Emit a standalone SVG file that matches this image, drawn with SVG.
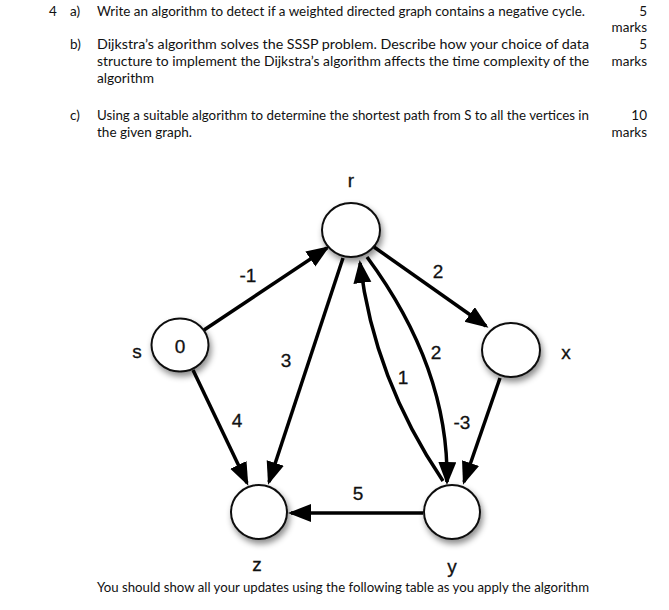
<svg xmlns="http://www.w3.org/2000/svg" width="669" height="610" viewBox="0 0 669 610">
<style>
.q{font-family:Lato,"Liberation Sans",Arial,sans-serif;font-size:13.5px;fill:#111}
.lbl{font-family:"Liberation Sans",Arial,sans-serif;font-size:19px;fill:#111;text-anchor:middle;dominant-baseline:central;stroke:#111;stroke-width:0.3}
.node{fill:#fff;stroke:#111;stroke-width:2;filter:url(#sh)}
.e{fill:none;stroke:#000;stroke-width:3.5;marker-end:url(#ah)}
</style>
<defs>
<filter id="sh" x="-40%" y="-40%" width="180%" height="180%">
<feDropShadow dx="2" dy="4" stdDeviation="3" flood-color="#000" flood-opacity="0.45"/>
</filter>
<marker id="ah" markerUnits="userSpaceOnUse" markerWidth="26" markerHeight="20" refX="20" refY="9" orient="auto">
<path d="M0,0 L23,9 L0,18 z" fill="#000"/>
</marker>
</defs>
<rect width="669" height="610" fill="#fff"/>
<g id="text">
<text class="q" x="49" y="15.5">4</text>
<text class="q" x="70" y="15.5">a)</text>
<text class="q" x="97" y="15.5" textLength="488" lengthAdjust="spacingAndGlyphs">Write an algorithm to detect if a weighted directed graph contains a negative cycle.</text>
<text class="q" x="647" y="15.5" text-anchor="end">5</text>
<text class="q" x="647" y="32" text-anchor="end">marks</text>
<text class="q" x="70" y="48.5">b)</text>
<text class="q" x="97" y="48.5" textLength="492" lengthAdjust="spacingAndGlyphs">Dijkstra’s algorithm solves the SSSP problem. Describe how your choice of data</text>
<text class="q" x="647" y="48.5" text-anchor="end">5</text>
<text class="q" x="97" y="65.5" textLength="492" lengthAdjust="spacingAndGlyphs">structure to implement the Dijkstra’s algorithm affects the time complexity of the</text>
<text class="q" x="647" y="65.5" text-anchor="end">marks</text>
<text class="q" x="97" y="82.5" textLength="57" lengthAdjust="spacingAndGlyphs">algorithm</text>
<text class="q" x="70" y="119.5">c)</text>
<text class="q" x="97" y="119.5" textLength="492" lengthAdjust="spacingAndGlyphs">Using a suitable algorithm to determine the shortest path from S to all the vertices in</text>
<text class="q" x="647" y="119.5" text-anchor="end">10</text>
<text class="q" x="97" y="136.5" textLength="95" lengthAdjust="spacingAndGlyphs">the given graph.</text>
<text class="q" x="647" y="136.5" text-anchor="end">marks</text>
<text class="q" x="97" y="592" textLength="492" lengthAdjust="spacingAndGlyphs">You should show all your updates using the following table as you apply the algorithm</text>
</g>
<g id="edges">
<line class="e" x1="204" y1="330" x2="327" y2="248"/>
<line class="e" x1="374" y1="247" x2="486" y2="326"/>
<line class="e" x1="343" y1="258" x2="269" y2="482"/>
<path class="e" d="M443,481 Q374,379 360,263"/>
<path class="e" d="M367,257 Q449,368 447,482"/>
<line class="e" x1="193" y1="370" x2="247" y2="483"/>
<line class="e" x1="500" y1="378" x2="464" y2="482"/>
<line class="e" x1="423" y1="513" x2="291" y2="513"/>
<text class="lbl" x="248" y="275">-1</text>
<text class="lbl" x="438" y="271">2</text>
<text class="lbl" x="286" y="360">3</text>
<text class="lbl" x="403" y="377">1</text>
<text class="lbl" x="436" y="352">2</text>
<text class="lbl" x="237" y="420">4</text>
<text class="lbl" x="462" y="422">-3</text>
<text class="lbl" x="358" y="493">5</text>
</g>
<g id="node-r">
<ellipse class="node" cx="351" cy="230" rx="29" ry="27"/>
<text class="lbl" x="351" y="180">r</text>
</g>
<g id="node-s">
<ellipse class="node" cx="180" cy="345" rx="28.5" ry="26.5"/>
<text class="lbl" x="180" y="346">0</text>
<text class="lbl" x="137" y="351">s</text>
</g>
<g id="node-x">
<ellipse class="node" cx="511" cy="350" rx="29" ry="27"/>
<text class="lbl" x="566" y="352">x</text>
</g>
<g id="node-z">
<ellipse class="node" cx="259" cy="512" rx="28" ry="27"/>
<text class="lbl" x="257" y="564">z</text>
</g>
<g id="node-y">
<ellipse class="node" cx="452" cy="512" rx="28" ry="27"/>
<text class="lbl" x="452" y="566">y</text>
</g>
</svg>
